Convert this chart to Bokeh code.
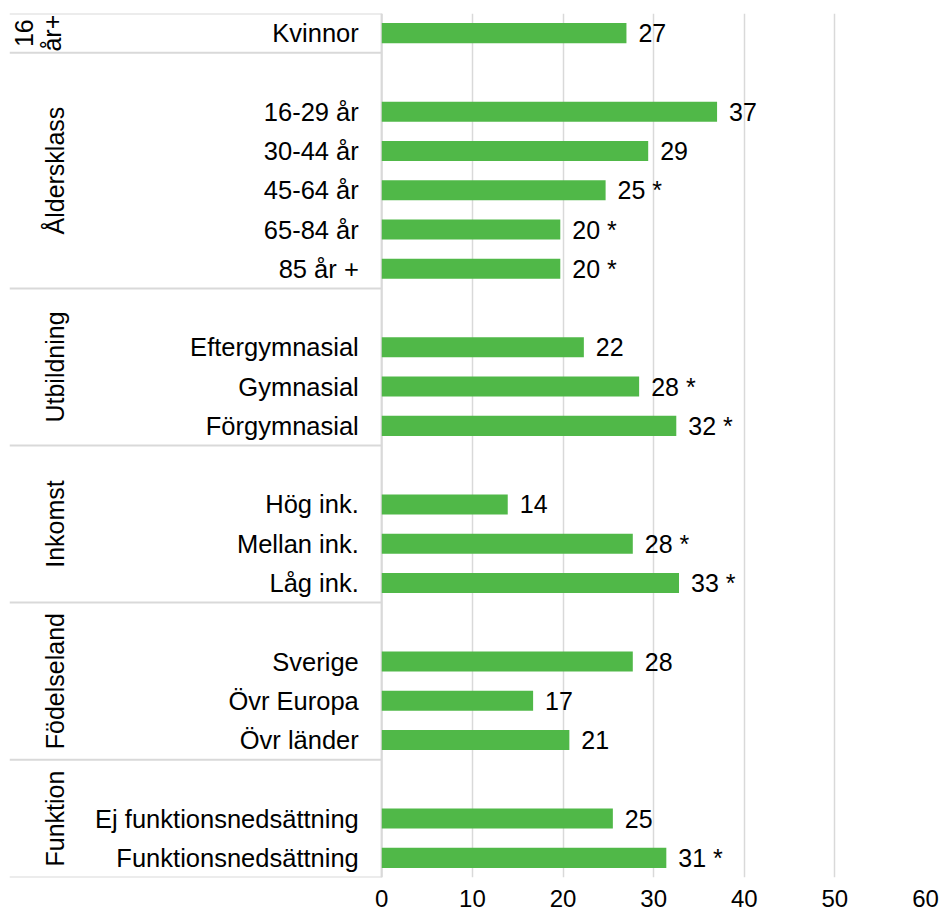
import math
from bokeh.plotting import figure
from bokeh.models import Range1d, FixedTicker
from bokeh.embed import file_html
from bokeh.resources import INLINE
from bokeh.core.properties import value

# ---- data ----
group_names = ["16\når+", "Åldersklass", "Utbildning", "Inkomst", "Födelseland", "Funktion"]
group_items = [
    ["Kvinnor"],
    ["16-29 år", "30-44 år", "45-64 år", "65-84 år", "85 år +"],
    ["Eftergymnasial", "Gymnasial", "Förgymnasial"],
    ["Hög ink.", "Mellan ink.", "Låg ink."],
    ["Sverige", "Övr Europa", "Övr länder"],
    ["Ej funktionsnedsättning", "Funktionsnedsättning"],
]
values = [27.0,
          37.0, 29.4, 24.7, 19.7, 19.7,
          22.3, 28.4, 32.5,
          13.9, 27.7, 32.8,
          27.7, 16.7, 20.7,
          25.5, 31.4]
value_labels = ["27",
                "37", "29", "25 *", "20 *", "20 *",
                "22", "28 *", "32 *",
                "14", "28 *", "33 *",
                "28", "17", "21",
                "25", "31 *"]
x_ticks = [0, 10, 20, 30, 40, 50, 60]

# ---- layout of rows (one blank row before each group after the first) ----
items, rows_y, boundaries, centers = [], [], [0], []
row = 0
for gi, its in enumerate(group_items):
    start = row
    if gi > 0:
        row += 1
    for it in its:
        items.append(it)
        rows_y.append(row + 0.5)
        row += 1
    boundaries.append(row)
    centers.append((start + row) / 2)
n_rows = row

FONT = value("Liberation Sans")
GRID = "#d9d9d9"
BAR = "#50b848"
X_MIN = -41.08

p = figure(frame_width=916, frame_height=864,
           x_range=Range1d(X_MIN, 60), y_range=Range1d(n_rows, 0),
           toolbar_location=None, output_backend="svg",
           y_axis_location=None,
           min_border_left=9, min_border_right=17, min_border_top=13, min_border_bottom=35)
p.outline_line_color = None
p.background_fill_color = "white"
p.border_fill_color = "white"

ax = p.xaxis[0]
ax.ticker = FixedTicker(ticks=x_ticks)
ax.axis_line_color = None
ax.major_tick_line_color = None
ax.minor_tick_line_color = None
ax.major_label_text_font = "Liberation Sans"
ax.major_label_text_font_size = "24px"
ax.major_label_text_color = "black"
ax.major_label_standoff = 6

p.xgrid.ticker = FixedTicker(ticks=x_ticks)
p.xgrid.grid_line_color = GRID
p.xgrid.grid_line_width = 1.5
p.ygrid.grid_line_color = None

# separators in the label area
p.segment(x0=[X_MIN] * len(boundaries), x1=[0] * len(boundaries),
          y0=boundaries, y1=boundaries, line_color=GRID, line_width=2)
p.segment(x0=[0], x1=[0], y0=[0], y1=[n_rows], line_color=GRID, line_width=2)

p.hbar(y=rows_y, left=0, right=values, height=0.51, fill_color=BAR, line_color=None)

p.text(x=values, y=rows_y, text=value_labels, x_offset=12,
       text_align="left", text_baseline="middle", text_font=FONT,
       text_font_size="25px", text_color="black")
p.text(x=[0] * len(items), y=rows_y, text=items, x_offset=-23,
       text_align="right", text_baseline="middle", text_font=FONT,
       text_font_size="25.5px", text_color="black")

p.text(x=[0], y=[centers[0]], text=[group_names[0]], x_offset=-344, angle=math.pi / 2,
       text_align="center", text_baseline="middle", text_font=FONT,
       text_font_size="25px", text_color="black", text_line_height=1.0)
p.text(x=[0] * (len(group_names) - 1), y=centers[1:], text=group_names[1:], x_offset=-327,
       angle=math.pi / 2, text_align="center", text_baseline="middle", text_font=FONT,
       text_font_size="25px", text_color="black")

open("out.html", "w").write(file_html(p, INLINE))
